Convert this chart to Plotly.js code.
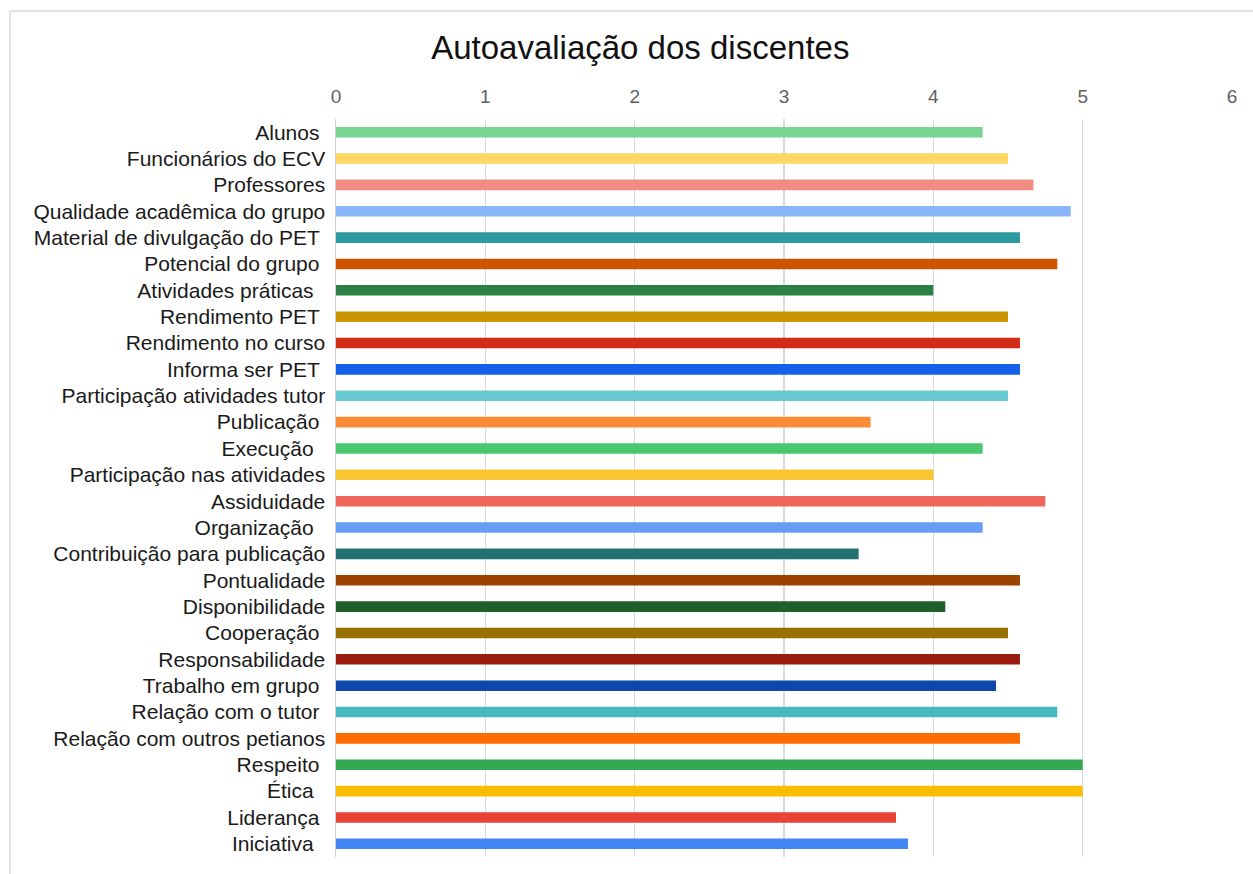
<!DOCTYPE html>
<html>
<head>
<meta charset="utf-8">
<script src="https://cdn.plot.ly/plotly-3.0.1.min.js"></script>
<style>
  html, body { margin: 0; padding: 0; background: #fff; }
  #wrap { position: relative; width: 1253px; height: 874px; }
  #frame { position: absolute; left: 9px; top: 10px; width: 1260px; height: 880px;
           border-left: 2px solid #e3e3e3; border-top: 2px solid #e3e3e3; box-sizing: border-box; pointer-events: none; }
  #chart { position: absolute; left: 0; top: 0; width: 1253px; height: 874px; }
</style>
</head>
<body>
<div id="wrap">
  <div id="chart"></div>
  <div id="frame"></div>
</div>
<script>
const categories = [
  "Alunos ", "Funcionários do ECV", "Professores", "Qualidade acadêmica do grupo",
  "Material de divulgação do PET ", "Potencial do grupo ", "Atividades práticas  ",
  "Rendimento PET ", "Rendimento no curso", "Informa ser PET ", "Participação atividades tutor",
  "Publicação ", "Execução  ", "Participação nas atividades", "Assiduidade", "Organização  ",
  "Contribuição para publicação", "Pontualidade", "Disponibilidade", "Cooperação ",
  "Responsabilidade", "Trabalho em grupo ", "Relação com o tutor ", "Relação com outros petianos",
  "Respeito ", "Ética  ", "Liderança ", "Iniciativa  "
];
const values = [
  4.33, 4.5, 4.67, 4.92,
  4.58, 4.83, 4.0,
  4.5, 4.58, 4.58, 4.5,
  3.58, 4.33, 4.0, 4.75, 4.33,
  3.5, 4.58, 4.08, 4.5,
  4.58, 4.42, 4.83, 4.58,
  5.0, 5.0, 3.75, 3.83
];
const barColors = [
  "#79d48f", "#fdd663", "#f28b82", "#8ab4f8",
  "#2e9a9f", "#cf5400", "#2a8045",
  "#cb9400", "#d22b16", "#1560e8", "#69c9d0",
  "#fb8b36", "#4bc86f", "#f9c531", "#ee695b", "#679df7",
  "#237271", "#9d4300", "#1e5f2d", "#977100",
  "#991b10", "#0d47a9", "#47b9c3", "#fd6c03",
  "#34a853", "#fbbc04", "#ea4335", "#4285f4"
];
const xTicks = [0, 1, 2, 3, 4, 5, 6];
const titleText = "Autoavaliação dos discentes";

const trace = {
  type: "bar",
  orientation: "h",
  x: values,
  y: categories,
  marker: { color: barColors, line: { width: 0 } },
  width: 0.4,
  hoverinfo: "x+y"
};

const layout = {
  width: 1253,
  height: 874,
  paper_bgcolor: "#ffffff",
  plot_bgcolor: "#ffffff",
  showlegend: false,
  margin: { l: 336, r: 21, t: 119, b: 17 },
  title: {
    text: titleText,
    font: { family: "Liberation Sans, Arial, sans-serif", size: 33, color: "#111" },
    x: 0.511, xanchor: "center", y: 0.946, yanchor: "middle"
  },
  font: { family: "Liberation Sans, Arial, sans-serif" },
  xaxis: {
    side: "top",
    range: [0, 6],
    tickvals: xTicks,
    ticktext: xTicks.map(String),
    showgrid: true,
    gridcolor: "#dadada",
    gridwidth: 1.5,
    zeroline: false,
    showline: false,
    ticks: "",
    ticklabelstandoff: 11,
    tickfont: { size: 19, color: "#5f5f5f" },
    fixedrange: true
  },
  yaxis: {
    type: "category",
    autorange: "reversed",
    showgrid: false,
    showline: true,
    linecolor: "#cfcfcf",
    linewidth: 1.5,
    ticks: "",
    ticklabelstandoff: 5,
    tickfont: { size: 21, color: "#1a1a1a" },
    fixedrange: true
  },
  yaxis2: {
    overlaying: "y",
    anchor: "x",
    side: "left",
    range: [14, 0],
    dtick: 1,
    tick0: 0,
    showticklabels: false,
    showgrid: false,
    zeroline: false,
    showline: false,
    ticks: "outside",
    ticklen: 4,
    tickcolor: "#cfcfcf",
    tickwidth: 1.5,
    fixedrange: true
  },
  yaxis3: {
    overlaying: "y",
    anchor: "x",
    side: "left",
    range: [14, 0],
    dtick: 1,
    tick0: 0,
    showticklabels: false,
    showgrid: false,
    zeroline: false,
    showline: false,
    ticks: "inside",
    ticklen: 6,
    tickcolor: "#cfcfcf",
    tickwidth: 1.5,
    fixedrange: true
  }
};

Plotly.newPlot("chart", [trace], layout, { displayModeBar: false, staticPlot: true });
</script>
</body>
</html>
